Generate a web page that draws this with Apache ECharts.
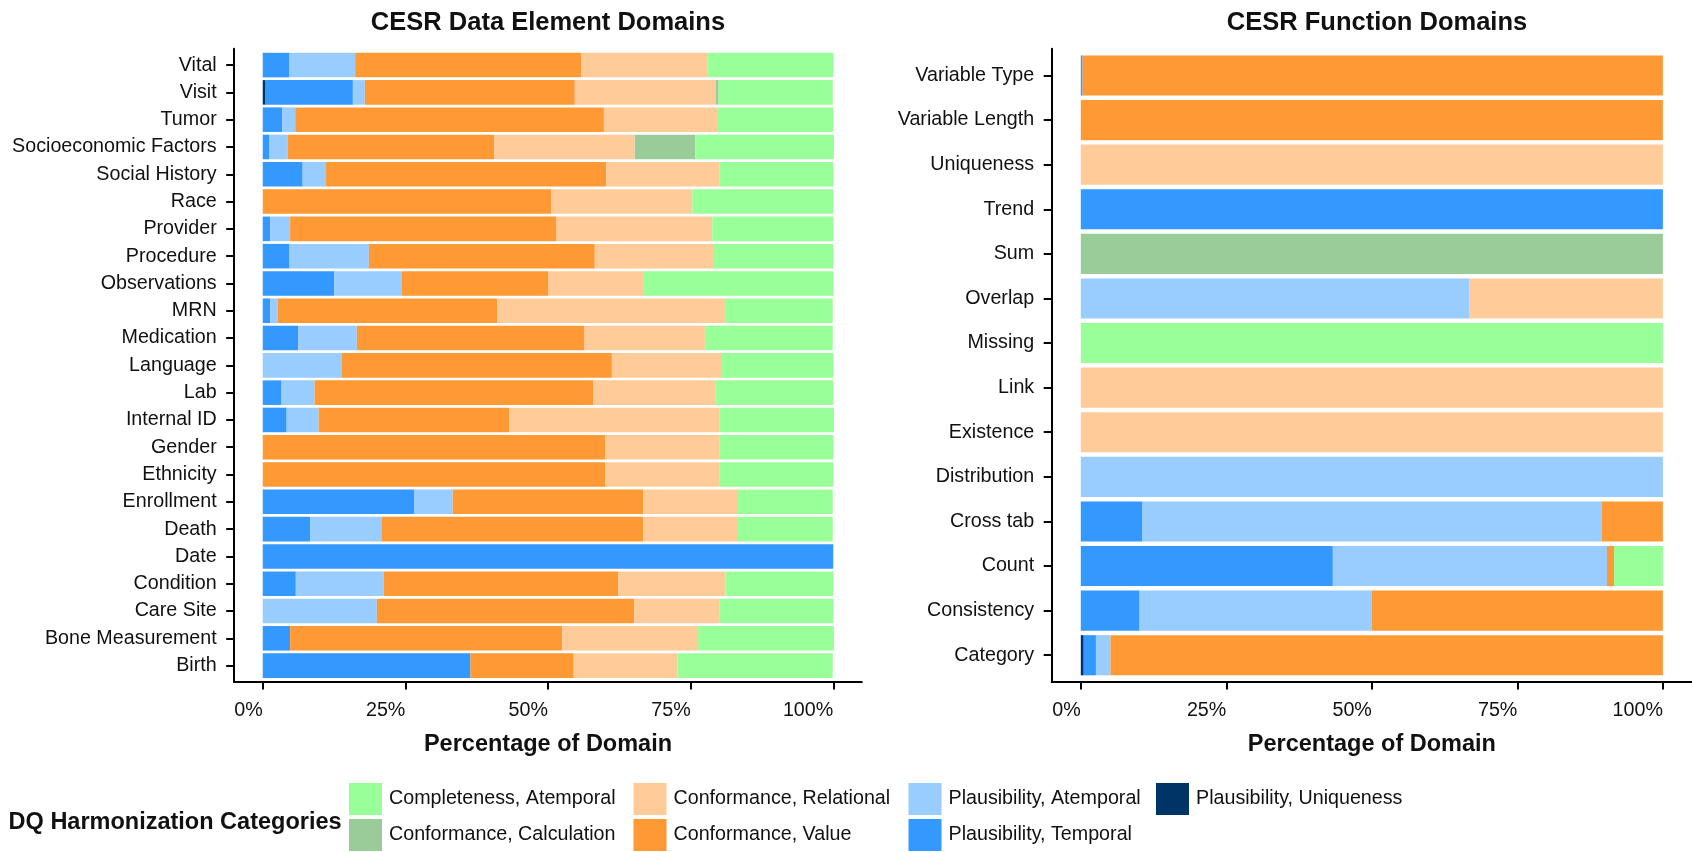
<!DOCTYPE html>
<html>
<head>
<meta charset="utf-8">
<script src="https://cdn.jsdelivr.net/npm/echarts@6/dist/echarts.min.js"></script>
<style>
  html, body { margin: 0; padding: 0; background: #fff; }
  #chart { width: 1692px; height: 852px; }
</style>
</head>
<body>
<div id="chart"></div>
<script>
// ---------- DATA ----------
const seriesNames = [
  'Plausibility, Uniqueness',
  'Plausibility, Temporal',
  'Plausibility, Atemporal',
  'Conformance, Value',
  'Conformance, Relational',
  'Conformance, Calculation',
  'Completeness, Atemporal'
];
const seriesColors = ['#003366', '#3399FF', '#99CCFF', '#FF9933', '#FFCC99', '#99CC99', '#99FF99'];

const xTicks = [0, 25, 50, 75, 100];

// Left panel (top to bottom)
const leftCategories = ['Vital', 'Visit', 'Tumor', 'Socioeconomic Factors', 'Social History', 'Race', 'Provider',
  'Procedure', 'Observations', 'MRN', 'Medication', 'Language', 'Lab', 'Internal ID', 'Gender', 'Ethnicity',
  'Enrollment', 'Death', 'Date', 'Condition', 'Care Site', 'Bone Measurement', 'Birth'];
const leftUniqueness   = [0, 0.5, 0, 0, 0, 0, 0, 0, 0, 0, 0, 0, 0, 0, 0, 0, 0, 0, 0, 0, 0, 0, 0];
const leftTemporal     = [4.7, 15.3, 3.4, 1.1, 7.0, 0, 1.3, 4.7, 12.5, 1.3, 6.2, 0, 3.3, 4.2, 0, 0, 26.6, 8.3, 100, 5.8, 0, 4.8, 36.4];
const leftAtemporal    = [11.5, 2.1, 2.3, 3.3, 4.1, 0, 3.5, 13.9, 11.9, 1.3, 10.3, 13.8, 5.8, 5.6, 0, 0, 6.7, 12.5, 0, 15.4, 20.0, 0, 0];
const leftValue        = [39.6, 36.8, 54.1, 36.2, 49.1, 50.6, 46.7, 39.6, 25.6, 38.5, 39.9, 47.4, 48.8, 33.4, 60, 60, 33.4, 45.9, 0, 41.1, 45.1, 47.7, 18.1];
const leftRelational   = [22.1, 24.7, 20.0, 24.6, 19.9, 24.7, 27.3, 20.9, 16.8, 39.9, 21.1, 19.3, 21.4, 36.8, 20, 20, 16.6, 16.6, 0, 18.8, 14.9, 23.8, 18.2];
const leftCalculation  = [0, 0.5, 0, 10.6, 0, 0, 0, 0, 0, 0, 0, 0, 0, 0, 0, 0, 0, 0, 0, 0, 0, 0, 0];
const leftCompleteness = [22.1, 20.0, 20.2, 24.3, 19.9, 24.7, 21.2, 20.9, 33.2, 18.9, 22.4, 19.5, 20.7, 20.1, 20, 20, 16.6, 16.6, 0, 18.9, 20.0, 23.8, 27.2];

// Right panel (top to bottom)
const rightCategories = ['Variable Type', 'Variable Length', 'Uniqueness', 'Trend', 'Sum', 'Overlap', 'Missing',
  'Link', 'Existence', 'Distribution', 'Cross tab', 'Count', 'Consistency', 'Category'];
const rightUniqueness   = [0, 0, 0, 0, 0, 0, 0, 0, 0, 0, 0, 0, 0, 0.5];
const rightTemporal     = [0.3, 0, 0, 100, 0, 0, 0, 0, 0, 0, 10.6, 43.3, 10.1, 2.1];
const rightAtemporal    = [0, 0, 0, 0, 0, 66.7, 0, 0, 0, 100, 78.9, 47.1, 39.9, 2.5];
const rightValue        = [99.7, 100, 0, 0, 0, 0, 0, 0, 0, 0, 10.5, 1.2, 50.0, 94.9];
const rightRelational   = [0, 0, 100, 0, 0, 33.3, 0, 100, 100, 0, 0, 0, 0, 0];
const rightCalculation  = [0, 0, 0, 0, 100, 0, 0, 0, 0, 0, 0, 0, 0, 0];
const rightCompleteness = [0, 0, 0, 0, 0, 0, 100, 0, 0, 0, 0, 8.4, 0, 0];

const leftData = [leftUniqueness, leftTemporal, leftAtemporal, leftValue, leftRelational, leftCalculation, leftCompleteness];
const rightData = [rightUniqueness, rightTemporal, rightAtemporal, rightValue, rightRelational, rightCalculation, rightCompleteness];

// ---------- LAYOUT ----------
const FONT = 'Liberation Sans, Arial, sans-serif';
const TXT = '#111111';
const FS = 19.7;
const panelTop = 48.7, panelH = 633.3;
const L = { left: 234.2, width: 627.6, n: leftCategories.length };
const R = { left: 1051.7, width: 651.5, n: rightCategories.length };
function bandGrid(p) {
  const unit = panelH / (p.n + 0.2);
  return { left: p.left, width: p.width, top: panelTop + 0.1 * unit, height: p.n * unit };
}

const grids = [
  { left: L.left, width: L.width, top: panelTop, height: panelH },
  bandGrid(L),
  { left: R.left, width: R.width, top: panelTop, height: panelH },
  bandGrid(R)
];

function frameX(gridIndex) {
  return {
    type: 'value', gridIndex, min: -5, max: 105,
    axisLine: { show: true, onZero: false, lineStyle: { color: '#000', width: 2 } },
    axisTick: { show: true, length: 7.5, lineStyle: { color: '#000', width: 2 }, customValues: xTicks },
    axisLabel: { show: true, customValues: xTicks, formatter: '{value}%', align: 'right',
      fontSize: FS, fontFamily: FONT, color: TXT, margin: 19 },
    splitLine: { show: false },
    name: 'Percentage of Domain', nameLocation: 'middle', nameGap: 51,
    nameTextStyle: { fontSize: 23.5, fontWeight: 'bold', fontFamily: FONT, color: TXT }
  };
}
function hiddenX(gridIndex) {
  return { type: 'value', gridIndex, min: -5, max: 105, show: false, splitLine: { show: false } };
}
function frameY(gridIndex) {
  return {
    type: 'value', gridIndex, min: 0, max: 1,
    axisLine: { show: true, onZero: false, lineStyle: { color: '#000', width: 2 } },
    axisTick: { show: false }, axisLabel: { show: false }, splitLine: { show: false }
  };
}
function catY(gridIndex, cats) {
  return {
    type: 'category', gridIndex, data: cats, inverse: true,
    axisLine: { show: false, onZero: false },
    axisTick: { show: true, alignWithLabel: true, length: 8, lineStyle: { color: '#000', width: 2 } },
    axisLabel: { fontSize: FS, fontFamily: FONT, color: TXT, margin: 17.5 },
    splitLine: { show: false }
  };
}

const series = [];
function addPanel(data, xIdx, yIdx, stackName) {
  data.forEach((vals, i) => {
    series.push({
      name: seriesNames[i], type: 'bar', stack: stackName,
      xAxisIndex: xIdx, yAxisIndex: yIdx,
      data: vals, barCategoryGap: '10%',
      itemStyle: { color: seriesColors[i] },
      emphasis: { disabled: true }
    });
  });
}
addPanel(leftData, 1, 1, 'left');
addPanel(rightData, 3, 3, 'right');

function legendCol(left, names) {
  return {
    orient: 'vertical', left, top: 783, height: 69, padding: 0, data: names,
    icon: 'rect', itemWidth: 33, itemHeight: 32, itemGap: 4,
    selectedMode: false,
    textStyle: { fontSize: FS, fontFamily: FONT, color: TXT, padding: [0, 0, 0, 2] }
  };
}

const option = {
  animation: false,
  backgroundColor: '#ffffff',
  title: [
    { text: 'CESR Data Element Domains', left: 548, top: 10, padding: 0, textAlign: 'center',
      textStyle: { fontSize: 25.5, fontWeight: 'bold', fontFamily: FONT, color: TXT } },
    { text: 'CESR Function Domains', left: 1377, top: 10, padding: 0, textAlign: 'center',
      textStyle: { fontSize: 25.5, fontWeight: 'bold', fontFamily: FONT, color: TXT } },
    { text: 'DQ Harmonization Categories', left: 8.6, top: 811, padding: 0,
      textStyle: { fontSize: 23.5, fontWeight: 'bold', fontFamily: FONT, color: TXT } }
  ],
  legend: [
    legendCol(349, ['Completeness, Atemporal', 'Conformance, Calculation']),
    legendCol(633.5, ['Conformance, Relational', 'Conformance, Value']),
    legendCol(908.5, ['Plausibility, Atemporal', 'Plausibility, Temporal']),
    legendCol(1156, ['Plausibility, Uniqueness'])
  ],
  grid: grids,
  xAxis: [frameX(0), hiddenX(1), frameX(2), hiddenX(3)],
  yAxis: [frameY(0), catY(1, leftCategories), frameY(2), catY(3, rightCategories)],
  series
};

const chart = echarts.init(document.getElementById('chart'), null, { renderer: 'canvas' });
chart.setOption(option);
</script>
</body>
</html>
